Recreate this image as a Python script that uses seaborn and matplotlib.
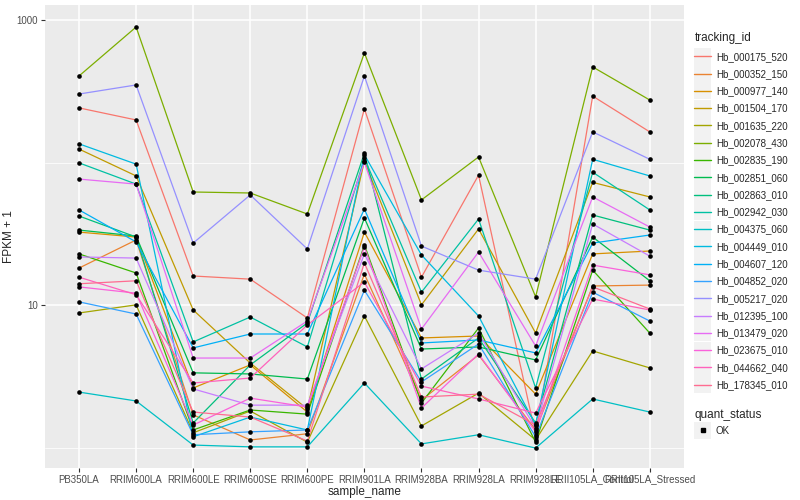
import numpy as np
import pandas as pd
import matplotlib
matplotlib.use("Agg")
import matplotlib.pyplot as plt
import seaborn as sns
from matplotlib.lines import Line2D
from matplotlib.patches import Rectangle
from matplotlib.legend_handler import HandlerLine2D

# samples on the x axis
samples = ["PB350LA", "RRIM600LA", "RRIM600LE", "RRIM600SE", "RRIM600PE",
           "RRIM901LA", "RRIM928BA", "RRIM928LA", "RRIM928LE",
           "RRII105LA_Control", "RRII105LA_Stressed"]

tracking_ids = ["Hb_000175_520", "Hb_000352_150", "Hb_000977_140", "Hb_001504_170",
                "Hb_001635_220", "Hb_002078_430", "Hb_002835_190", "Hb_002851_060",
                "Hb_002863_010", "Hb_002942_030", "Hb_004375_060", "Hb_004449_010",
                "Hb_004607_120", "Hb_004852_020", "Hb_005217_020", "Hb_012395_100",
                "Hb_013479_020", "Hb_023675_010", "Hb_044662_040", "Hb_178345_010"]

# ggplot2 default hue palette for 20 levels
palette = ["#F8766D", "#EA8331", "#D89000", "#C09B00", "#A3A500", "#7CAE00",
           "#39B600", "#00BB4E", "#00BF7D", "#00C1A3", "#00BFC4", "#00BAE0",
           "#00B0F6", "#35A2FF", "#9590FF", "#C77CFF", "#E76BF3", "#FA62DB",
           "#FF62BC", "#FF6C91"]

# FPKM + 1 per gene, one value per sample
hb_000175_520 = [243, 200, 16.1, 15.3, 8.17, 239, 15.8, 82, 1.24, 294, 165]
hb_000352_150 = [18.3, 28.8, 1.71, 1.14, 1.26, 16.6, 2.17, 4.50, 1.34, 13.7, 13.9]
hb_000977_140 = [32.7, 30.2, 2.64, 3.83, 1.79, 32.7, 5.92, 6.11, 2.39, 23.0, 24.1]
hb_001504_170 = [125, 81, 9.3, 3.95, 1.88, 103, 10.1, 34.4, 6.41, 73, 57.7]
hb_001635_220 = [8.86, 10.1, 1.28, 1.82, 1.10, 8.44, 1.43, 2.43, 1.14, 4.80, 3.65]
hb_002078_430 = [407, 897, 62.5, 61.5, 43.8, 590, 55, 110, 11.5, 471, 276]
hb_002835_190 = [23.0, 16.9, 1.34, 1.85, 1.73, 26.6, 2.07, 6.95, 1.10, 17.7, 6.41]
hb_002851_060 = [33.8, 30.7, 3.37, 3.31, 3.05, 41.1, 4.95, 5.12, 4.15, 30.2, 14.9]
hb_002863_010 = [42.4, 30.2, 1.50, 3.83, 7.54, 117, 3.05, 5.92, 1.50, 43.1, 33.8]
hb_002942_030 = [100, 71, 5.55, 8.30, 5.12, 108, 12.4, 40.4, 2.64, 86, 46.8]
hb_004375_060 = [2.47, 2.14, 1.05, 1.02, 1.02, 2.86, 1.07, 1.24, 1.00, 2.21, 1.79]
hb_004449_010 = [136, 98, 1.20, 1.65, 1.34, 114, 22.6, 8.44, 1.45, 106, 81]
hb_004607_120 = [46.8, 27.9, 5.04, 6.31, 6.31, 47.5, 5.46, 5.73, 4.65, 27.4, 31.2]
hb_004852_020 = [10.6, 8.71, 1.24, 1.30, 1.34, 12.8, 2.91, 5.37, 1.20, 12.4, 7.78]
hb_005217_020 = [304, 352, 27.4, 59.6, 24.9, 407, 26.1, 17.7, 15.3, 165, 106]
hb_012395_100 = [21.9, 21.5, 2.60, 2.00, 2.00, 23.0, 3.59, 6.41, 1.38, 37.3, 22.2]
hb_013479_020 = [77, 71, 4.28, 4.28, 7.78, 101, 6.84, 23.7, 5.20, 57.7, 35.5]
hb_023675_010 = [13.5, 12.2, 1.45, 2.24, 1.94, 25.7, 1.91, 4.57, 1.30, 19.2, 16.4]
hb_044662_040 = [15.8, 11.9, 2.86, 3.10, 7.30, 14.6, 2.72, 2.21, 1.76, 11.1, 9.3]
hb_178345_010 = [14.2, 14.9, 1.79, 1.65, 1.12, 19.9, 2.28, 2.39, 1.45, 13.5, 9.45]

series = [hb_000175_520, hb_000352_150, hb_000977_140, hb_001504_170, hb_001635_220,
          hb_002078_430, hb_002835_190, hb_002851_060, hb_002863_010, hb_002942_030,
          hb_004375_060, hb_004449_010, hb_004607_120, hb_004852_020, hb_005217_020,
          hb_012395_100, hb_013479_020, hb_023675_010, hb_044662_040, hb_178345_010]

rows = []
for tid, vals in zip(tracking_ids, series):
    for s, v in zip(samples, vals):
        rows.append({"sample_name": s, "fpkm": v, "tracking_id": tid, "quant_status": "OK"})
df = pd.DataFrame(rows)


class KeyHandler(HandlerLine2D):
    """Legend line with a grey ggplot-like key box behind it."""
    def create_artists(self, legend, orig_handle, xdescent, ydescent,
                       width, height, fontsize, trans):
        artists = super().create_artists(legend, orig_handle, xdescent, ydescent,
                                         width, height, fontsize, trans)
        box = 12.3
        yc = -ydescent + height / 2
        rect = Rectangle((-xdescent + width / 2 - box / 2, yc - box / 2), box, box,
                         facecolor="#F2F2F2", edgecolor="none", transform=trans)
        return [rect] + artists


sns.set_theme(style="darkgrid")
plt.rcParams["font.family"] = ["Liberation Sans", "DejaVu Sans"]

fig = plt.figure(figsize=(8, 5), dpi=100)
ax = fig.add_axes([0.056, 0.064, 0.799, 0.926])
ax.set_facecolor("#EBEBEB")

sns.lineplot(data=df, x="sample_name", y="fpkm", hue="tracking_id",
             hue_order=tracking_ids, palette=palette, ax=ax, lw=0.9,
             legend=False, sort=False, estimator=None)
sns.scatterplot(data=df, x="sample_name", y="fpkm", color="black", s=11,
                edgecolor=None, linewidth=0, ax=ax, legend=False, zorder=3)

ax.set_yscale("log")
ax.set_ylim(0.725, 1280)
ax.set_xlim(-0.6, len(samples) - 0.4)
ax.set_yticks([10, 1000])
ax.set_yticklabels(["10", "1000"])
ax.set_yticks([1, 100], minor=True)
ax.yaxis.set_minor_formatter(matplotlib.ticker.NullFormatter())
ax.grid(which="major", color="white", lw=1.1)
ax.grid(which="minor", axis="y", color="white", lw=0.55)
for sp in ax.spines.values():
    sp.set_visible(False)
ax.tick_params(axis="both", which="major", length=2.7, width=0.8, color="#333333",
               labelsize=7, labelcolor="#4D4D4D", pad=2, bottom=True, left=True)
ax.tick_params(axis="y", which="minor", length=0)
ax.set_xlabel("sample_name", fontsize=8.5, labelpad=1)
ax.set_ylabel("FPKM + 1", fontsize=8.5, labelpad=1)

handles = [Line2D([0], [0], color=c, lw=1.0) for c in palette]
leg1 = fig.legend(handles, tracking_ids, title="tracking_id", loc="upper left",
                  bbox_to_anchor=(0.862, 0.945), frameon=False, fontsize=7,
                  title_fontsize=8.5, handlelength=1.7, labelspacing=0.75,
                  borderpad=0, handletextpad=0.5, alignment="left",
                  handler_map={Line2D: KeyHandler()})
leg2 = fig.legend([Line2D([], [], marker="s", color="black", ls="", ms=2.6)], ["OK"],
                  title="quant_status", loc="upper left",
                  bbox_to_anchor=(0.862, 0.192), frameon=False, fontsize=7,
                  title_fontsize=8.5, handlelength=1.7, borderpad=0,
                  handletextpad=0.5, alignment="left",
                  handler_map={Line2D: KeyHandler()})

fig.savefig("out.png", dpi=100)
